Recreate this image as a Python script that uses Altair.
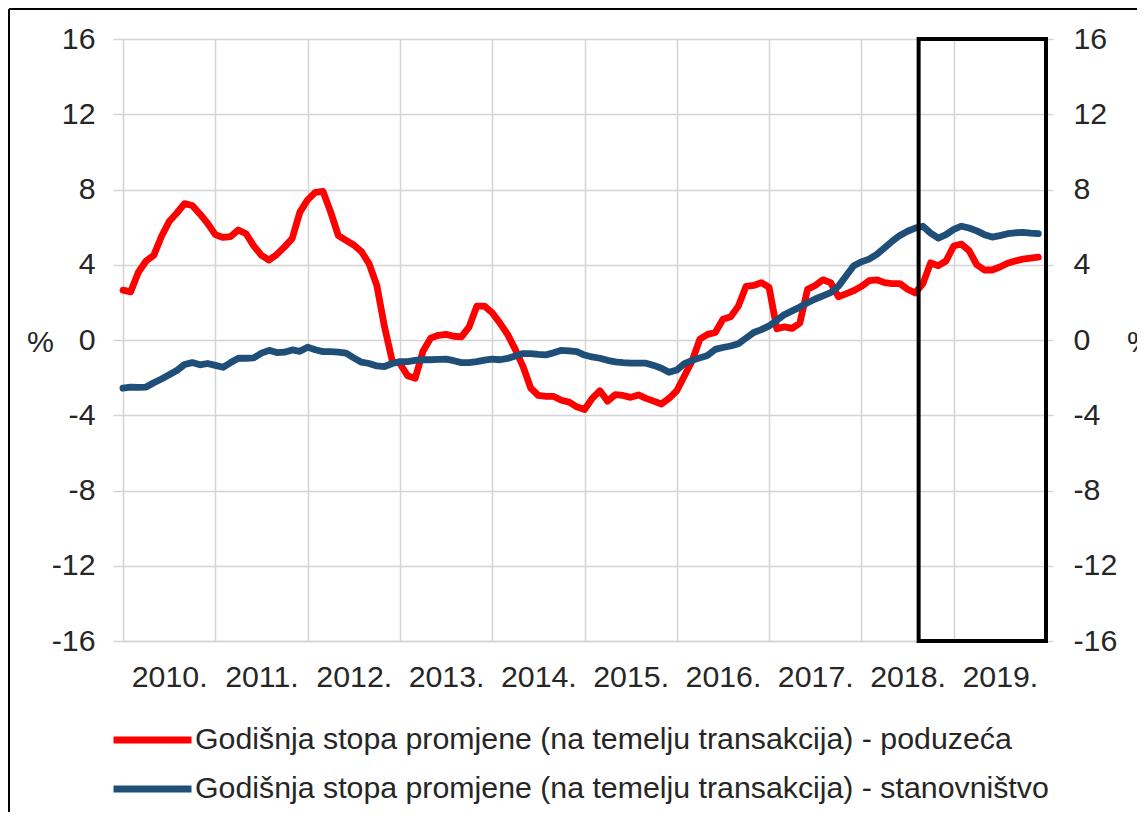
import altair as alt
import pandas as pd

years = [2010, 2011, 2012, 2013, 2014, 2015, 2016, 2017, 2018, 2019]
y_ticks = [-16, -12, -8, -4, 0, 4, 8, 12, 16]
name_red = "Godišnja stopa promjene (na temelju transakcija) - poduzeća"
name_blue = "Godišnja stopa promjene (na temelju transakcija) - stanovništvo"

poduzeca = [
    2.65, 2.56, 3.6, 4.2, 4.5, 5.5, 6.3, 6.75, 7.25, 7.15, 6.7, 6.2,
    5.6, 5.45, 5.5, 5.85, 5.65, 5.0, 4.5, 4.25, 4.55, 4.95, 5.4, 6.8,
    7.45, 7.85, 7.9, 6.8, 5.55, 5.3, 5.05, 4.7, 4.05, 2.9, 0.7, -1.1,
    -1.25, -1.9, -2.03, -0.6, 0.1, 0.25, 0.3, 0.2, 0.17, 0.7, 1.8, 1.8,
    1.45, 0.9, 0.3, -0.5, -1.4, -2.55, -2.95, -3.0, -3.0, -3.2, -3.3, -3.55,
    -3.7, -3.1, -2.7, -3.25, -2.9, -2.95, -3.05, -2.92, -3.1, -3.25, -3.4, -3.1,
    -2.7, -1.9, -1.1, 0.05, 0.3, 0.4, 1.1, 1.23, 1.8, 2.85, 2.9, 3.05,
    2.8, 0.6, 0.7, 0.62, 0.9, 2.7, 2.9, 3.2, 3.05, 2.3, 2.45, 2.62,
    2.85, 3.15, 3.2, 3.05, 3.0, 3.0, 2.7, 2.5, 3.0, 4.1, 3.95, 4.2,
    5.0, 5.1, 4.75, 4.0, 3.72, 3.72, 3.88, 4.08, 4.2, 4.3, 4.35, 4.4,
]
stanovnistvo = [
    -2.56, -2.5, -2.52, -2.5, -2.27, -2.07, -1.85, -1.62, -1.3, -1.2, -1.32, -1.25,
    -1.35, -1.45, -1.2, -0.97, -0.97, -0.95, -0.7, -0.55, -0.67, -0.65, -0.53, -0.6,
    -0.38, -0.52, -0.62, -0.62, -0.65, -0.7, -0.95, -1.18, -1.25, -1.38, -1.41, -1.25,
    -1.15, -1.15, -1.08, -1.05, -1.05, -1.03, -1.02, -1.1, -1.2, -1.2, -1.15, -1.07,
    -1.02, -1.05, -0.98, -0.85, -0.72, -0.72, -0.76, -0.79, -0.68, -0.55, -0.58, -0.62,
    -0.8, -0.9, -0.97, -1.08, -1.16, -1.2, -1.23, -1.23, -1.23, -1.35, -1.5, -1.72,
    -1.6, -1.25, -1.08, -0.95, -0.82, -0.5, -0.4, -0.32, -0.2, 0.1, 0.4, 0.55,
    0.75, 1.05, 1.35, 1.55, 1.75, 1.98, 2.18, 2.35, 2.52, 2.85, 3.4, 3.95,
    4.15, 4.3, 4.55, 4.9, 5.25, 5.56, 5.78, 5.95, 6.05, 5.68, 5.42, 5.6,
    5.88, 6.05, 5.95, 5.8, 5.6, 5.47, 5.55, 5.65, 5.7, 5.72, 5.68, 5.65,
]

# highlighted window: Aug 2018 to end of 2019
box_x = [2018.62]
box_x2 = [2020.0]
box_y = [-16]
box_y2 = [16]

t = [y + m / 12 for y in years for m in range(12)]
df = pd.concat([
    pd.DataFrame({"t": t, "v": poduzeca, "s": name_red}),
    pd.DataFrame({"t": t, "v": stanovnistvo, "s": name_blue}),
])
box_df = pd.DataFrame({"x": box_x, "x2": box_x2, "y": box_y, "y2": box_y2})

W, H = 923, 602
FONT = "Liberation Sans"
TXT = "#262626"
GRID = "#d4d4d4"
FS = 30.3

xscale = alt.Scale(domain=[2010, 2020], nice=False, zero=False)
yscale = alt.Scale(domain=[-16, 16], nice=False, zero=False)

xaxis = alt.Axis(
    values=years + [2020], grid=True, gridColor=GRID, gridWidth=1.5,
    ticks=False, domain=True, domainColor=GRID, domainWidth=1.5,
    labelExpr="datum.value < 2020 ? datum.value + '.' : ''",
    labelOffset=W / 20, labelPadding=21, labelFontSize=FS, labelFont=FONT,
    labelColor=TXT, title=None, labelFlush=False, labelOverlap=False,
)
yaxis_left = alt.Axis(
    values=y_ticks, grid=True, gridColor=GRID, gridWidth=1.5,
    ticks=True, tickSize=10, tickColor=GRID, tickWidth=1.5,
    domain=False, labelPadding=18, labelFontSize=FS, labelFont=FONT,
    labelExpr="datum.value + ''",
    labelColor=TXT, title="%", titleAngle=0, titleAlign="center",
    titleBaseline="middle", titleX=-83, titleY=303, titleFontSize=FS,
    titleFont=FONT, titleColor=TXT, titleFontWeight="normal",
)
yaxis_right = alt.Axis(
    orient="right", values=y_ticks, grid=False,
    ticks=True, tickSize=7, tickColor=GRID, tickWidth=1.5,
    domain=False, labelPadding=20, labelFontSize=FS, labelFont=FONT,
    labelExpr="datum.value + ''",
    labelColor=TXT, title="%", titleAngle=0, titleAlign="center",
    titleBaseline="middle", titleX=94, titleY=303, titleFontSize=FS,
    titleFont=FONT, titleColor=TXT, titleFontWeight="normal",
)

color = alt.Color(
    "s:N",
    scale=alt.Scale(domain=[name_red, name_blue], range=["#ff0000", "#1f4e79"]),
    legend=alt.Legend(
        title=None, orient="none", legendX=-13, legendY=686, direction="vertical",
        symbolType="stroke", symbolSize=6084, symbolStrokeWidth=7,
        clipHeight=30, rowPadding=18, labelOffset=0,
        labelFontSize=FS, labelFont=FONT, labelColor=TXT, labelLimit=2000,
    ),
)

lines = alt.Chart(df).mark_line(strokeWidth=6.8, strokeCap="round", strokeJoin="round").encode(
    x=alt.X("t:Q", scale=xscale, axis=xaxis),
    y=alt.Y("v:Q", scale=yscale, axis=yaxis_left),
    color=color,
    order=alt.Order("t:Q"),
)
red = lines.transform_filter(alt.datum.s == name_red)
blue = lines.transform_filter(alt.datum.s == name_blue)
left_part = alt.layer(red, blue)

box = alt.Chart(box_df).mark_rect(fill=None, fillOpacity=0, stroke="black", strokeWidth=4).encode(
    x=alt.X("x:Q", scale=xscale, axis=xaxis),
    x2="x2:Q",
    y=alt.Y("y:Q", scale=yscale, axis=yaxis_right),
    y2="y2:Q",
)

# outer chart frame (decoration, top and left edges)
frame_top = alt.Chart(box_df).mark_rule(color="black", strokeWidth=2).encode(
    x=alt.value(-114), x2=alt.value(W + 200), y=alt.value(-30),
)
frame_left = alt.Chart(box_df).mark_rule(color="black", strokeWidth=2).encode(
    x=alt.value(-114), y=alt.value(-30), y2=alt.value(H + 300),
)

chart = alt.layer(left_part, box, frame_top, frame_left).resolve_scale(y="independent").properties(
    width=W, height=H,
    autosize=alt.AutoSizeParams(type="none"),
    padding={"left": 115, "top": 31, "right": 91, "bottom": 171},
    background="white",
).configure_view(stroke=None)

chart.save("out.html", embed_options={"renderer": "svg", "actions": False})
